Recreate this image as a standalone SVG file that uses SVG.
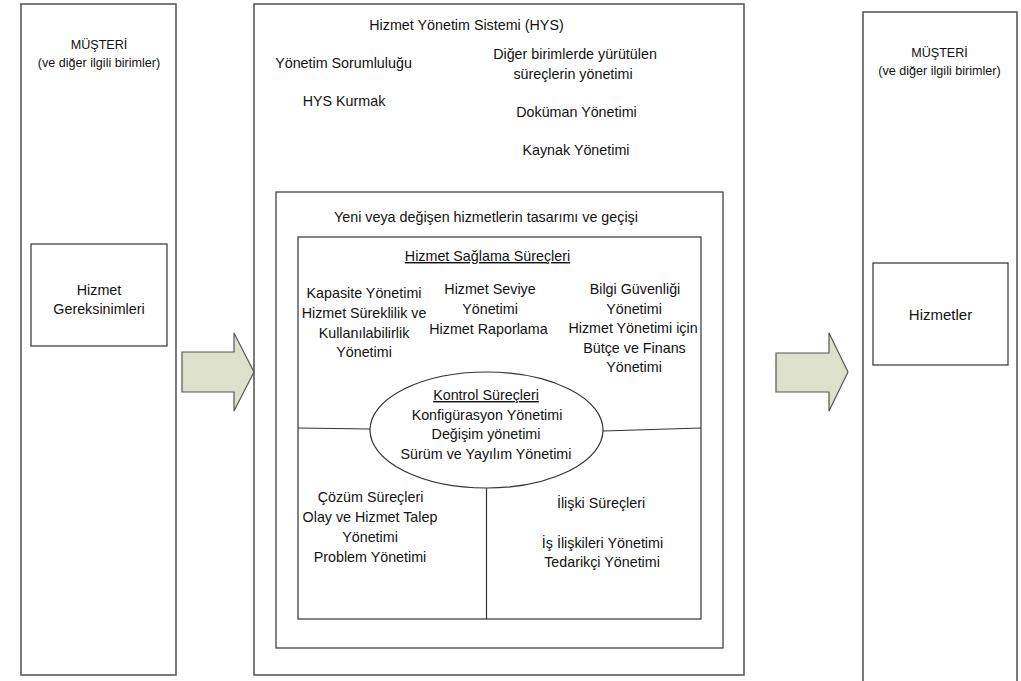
<svg xmlns="http://www.w3.org/2000/svg" width="1021" height="681" viewBox="0 0 1021 681">
<style>
.col{fill:#fff;stroke:#5a5a5a;stroke-width:1.6}
.box{fill:#fff;stroke:#333;stroke-width:1.2}
.arr{fill:#dde1cc;stroke:#555;stroke-width:1.2}
.ln{fill:none;stroke:#333;stroke-width:1.2}
text{font-family:"Liberation Sans",Arial,sans-serif;font-size:14.3px;fill:#111;text-anchor:middle}
.sm{font-size:12.6px}
.lg{font-size:15px}
.u{text-decoration:underline}
</style>
<rect width="1021" height="681" fill="#fff"/>
<g id="musteri-left">
<rect class="col" x="21" y="4" width="155" height="671"/>
<text class="sm" x="99" y="49">MÜŞTERİ</text>
<text class="sm" x="99" y="67">(ve diğer ilgili birimler)</text>
</g>
<g id="hizmet-gereksinimleri">
<rect class="box" x="31" y="244" width="136" height="102"/>
<text x="99" y="295">Hizmet</text>
<text x="99" y="314">Gereksinimleri</text>
</g>
<g id="hys">
<rect class="col" x="254" y="4" width="490" height="671"/>
<text x="466.5" y="30">Hizmet Yönetim Sistemi (HYS)</text>
<text x="343.5" y="68">Yönetim Sorumluluğu</text>
<text x="344" y="106">HYS Kurmak</text>
<text x="575" y="59">Diğer birimlerde yürütülen</text>
<text x="573" y="79">süreçlerin yönetimi</text>
<text x="576.5" y="117">Doküman Yönetimi</text>
<text x="576" y="155">Kaynak Yönetimi</text>
</g>
<g id="tasarim-gecis">
<rect class="box" x="276" y="192" width="447" height="456"/>
<text x="486" y="222">Yeni veya değişen hizmetlerin tasarımı ve geçişi</text>
</g>
<g id="hizmet-saglama">
<rect class="box" x="298" y="237" width="403" height="382"/>
<text class="u" x="487.5" y="261">Hizmet Sağlama Süreçleri</text>
<text x="364" y="298">Kapasite Yönetimi</text>
<text x="364" y="318">Hizmet Süreklilik ve</text>
<text x="364" y="338">Kullanılabilirlik</text>
<text x="364" y="357">Yönetimi</text>
<text x="490" y="294">Hizmet Seviye</text>
<text x="490" y="314">Yönetimi</text>
<text x="488.5" y="334">Hizmet Raporlama</text>
<text x="635" y="294">Bilgi Güvenliği</text>
<text x="634" y="314">Yönetimi</text>
<text x="633" y="333">Hizmet Yönetimi için</text>
<text x="634.5" y="353">Bütçe ve Finans</text>
<text x="634" y="372">Yönetimi</text>
</g>
<g id="connectors">
<path class="ln" d="M298 428 L370 429"/>
<path class="ln" d="M603 431 L701 428"/>
<path class="ln" d="M486.5 488 L486.5 619"/>
</g>
<g id="kontrol">
<ellipse class="box" cx="486.5" cy="430" rx="116.5" ry="58"/>
<text class="u" x="486" y="400">Kontrol Süreçleri</text>
<text x="487" y="420">Konfigürasyon Yönetimi</text>
<text x="486" y="439">Değişim yönetimi</text>
<text x="486" y="459">Sürüm ve Yayılım Yönetimi</text>
</g>
<g id="cozum">
<text x="370.5" y="502">Çözüm Süreçleri</text>
<text x="370" y="522">Olay ve Hizmet Talep</text>
<text x="370" y="542">Yönetimi</text>
<text x="370" y="562">Problem Yönetimi</text>
</g>
<g id="iliski">
<text x="601" y="508">İlişki Süreçleri</text>
<text x="602.5" y="548">İş İlişkileri Yönetimi</text>
<text x="602" y="567">Tedarikçi Yönetimi</text>
</g>
<g id="arrow-in">
<path class="arr" d="M182 352 L234 352 L234 333 L254 372 L234 411 L234 392 L182 392 Z"/>
</g>
<g id="arrow-out">
<path class="arr" d="M776 353 L829 353 L829 333 L848 372 L829 411 L829 392 L776 392 Z"/>
</g>
<g id="musteri-right">
<rect class="col" x="863" y="12" width="154" height="690"/>
<text class="sm" x="939.5" y="57">MÜŞTERİ</text>
<text class="sm" x="939.5" y="75">(ve diğer ilgili birimler)</text>
</g>
<g id="hizmetler">
<rect class="box" x="873" y="263" width="135" height="102"/>
<text class="lg" x="940.5" y="320">Hizmetler</text>
</g>
</svg>
